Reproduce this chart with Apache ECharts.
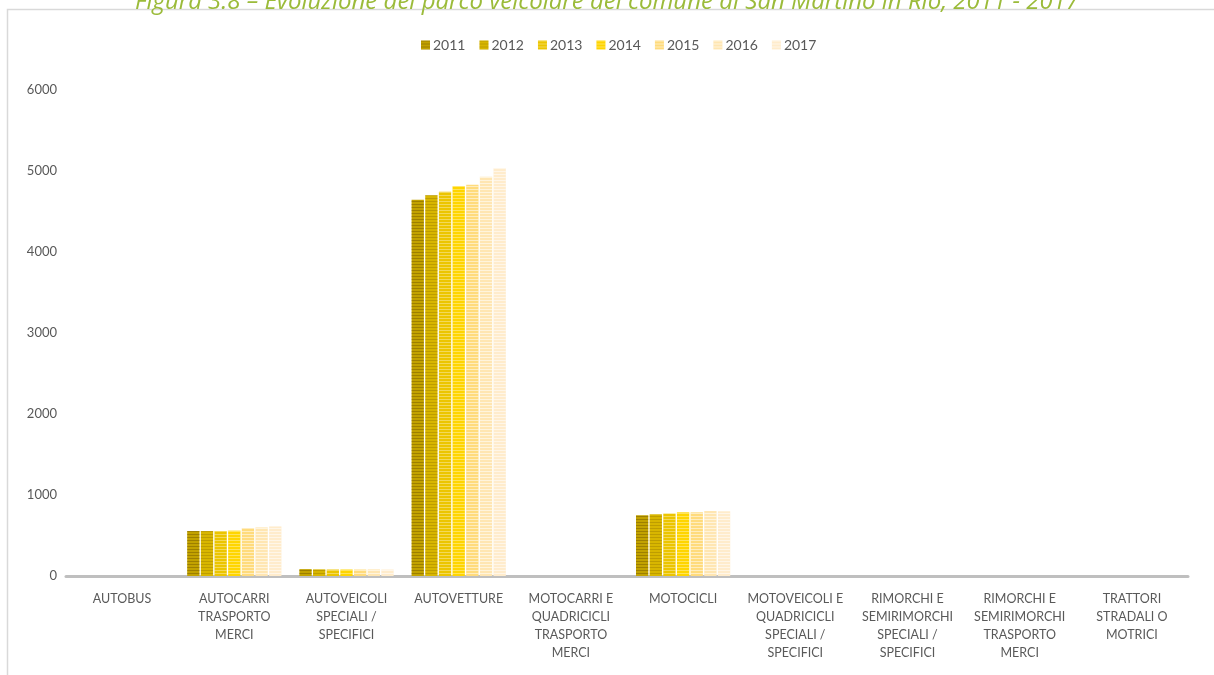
<!DOCTYPE html>
<html>
<head>
<meta charset="utf-8">
<script src="https://cdn.jsdelivr.net/npm/echarts@6/dist/echarts.min.js"></script>
<style>html,body{margin:0;padding:0;background:#fff}#c{width:1214px;height:675px}</style>
</head>
<body>
<div id="c"></div>
<script>
const titleText = 'Figura 3.8 – Evoluzione del parco veicolare del comune di San Martino in Rio, 2011 - 2017';
const categories = [
  'AUTOBUS',
  'AUTOCARRI\nTRASPORTO\nMERCI',
  'AUTOVEICOLI\nSPECIALI /\nSPECIFICI',
  'AUTOVETTURE',
  'MOTOCARRI E\nQUADRICICLI\nTRASPORTO\nMERCI',
  'MOTOCICLI',
  'MOTOVEICOLI E\nQUADRICICLI\nSPECIALI /\nSPECIFICI',
  'RIMORCHI E\nSEMIRIMORCHI\nSPECIALI /\nSPECIFICI',
  'RIMORCHI E\nSEMIRIMORCHI\nTRASPORTO\nMERCI',
  'TRATTORI\nSTRADALI O\nMOTRICI'
];
const years = ['2011', '2012', '2013', '2014', '2015', '2016', '2017'];
const v2011 = [0, 555, 85, 4645, 0, 750, 0, 0, 0, 0];
const v2012 = [0, 555, 82, 4700, 0, 762, 0, 0, 0, 0];
const v2013 = [0, 555, 80, 4745, 0, 770, 0, 0, 0, 0];
const v2014 = [0, 560, 80, 4812, 0, 786, 0, 0, 0, 0];
const v2015 = [0, 590, 80, 4830, 0, 786, 0, 0, 0, 0];
const v2016 = [0, 600, 82, 4930, 0, 802, 0, 0, 0, 0];
const v2017 = [0, 612, 80, 5033, 0, 798, 0, 0, 0, 0];
const yTicks = [0, 1000, 2000, 3000, 4000, 5000, 6000];

const seriesValues = [v2011, v2012, v2013, v2014, v2015, v2016, v2017];
const colors = ['#c2a200', '#d8b600', '#ecc500', '#ffd500', '#ffdb7c', '#ffe6b2', '#ffeccc'];
const stripe = ['rgba(110,85,0,0.45)', 'rgba(130,100,0,0.3)', 'rgba(255,255,255,0.35)', 'rgba(255,255,255,0.35)', 'rgba(255,255,255,0.5)', 'rgba(255,255,255,0.55)', 'rgba(255,255,255,0.55)'];

const chart = echarts.init(document.getElementById('c'), null, {renderer: 'canvas'});
const font = 'Lato, "Open Sans", sans-serif';
chart.setOption({
  animation: false,
  backgroundColor: '#fff',
  color: colors,
  title: {
    text: titleText,
    left: 'center',
    top: -16,
    textStyle: {fontFamily: '"Open Sans", sans-serif', fontStyle: 'italic', fontWeight: 'normal', fontSize: 24, color: '#9bbb3a', lineHeight: 26}
  },
  graphic: [{
    type: 'rect', silent: true, z: -1,
    shape: {x: 7.5, y: 9.5, width: 1220, height: 700},
    style: {fill: 'none', stroke: '#d9d9d9', lineWidth: 1.5}
  }],
  legend: {
    top: 33,
    left: 416,
    itemWidth: 9,
    itemHeight: 9,
    itemGap: 14,
    icon: 'rect',
    textStyle: {fontFamily: font, fontSize: 14, color: '#595959', padding: [0, 0, 0, -2]},
    data: years
  },
  grid: {left: 66, right: 26, top: 90, bottom: 99, containLabel: false},
  xAxis: {
    type: 'category',
    data: categories,
    axisLine: {lineStyle: {color: '#bfbfbf', width: 3}},
    axisTick: {show: false},
    axisLabel: {interval: 0, fontFamily: font, fontSize: 12.5, color: '#595959', lineHeight: 18, margin: 14, align: 'center'}
  },
  yAxis: {
    type: 'value',
    min: yTicks[0],
    max: yTicks[yTicks.length - 1],
    interval: 1000,
    splitLine: {show: false},
    axisLine: {show: false},
    axisTick: {show: false},
    axisLabel: {fontFamily: font, fontSize: 13, color: '#595959', margin: 9, formatter: v => String(v)}
  },
  series: years.map((y, i) => ({
    name: y,
    type: 'bar',
    data: seriesValues[i],
    barGap: '11%',
    barCategoryGap: '16%',
    itemStyle: {
      color: colors[i],
      decal: {symbol: 'rect', symbolSize: 1, dashArrayX: [1, 0], dashArrayY: [1, 2], rotation: 0, color: stripe[i]}
    }
  }))
});
</script>
</body>
</html>
